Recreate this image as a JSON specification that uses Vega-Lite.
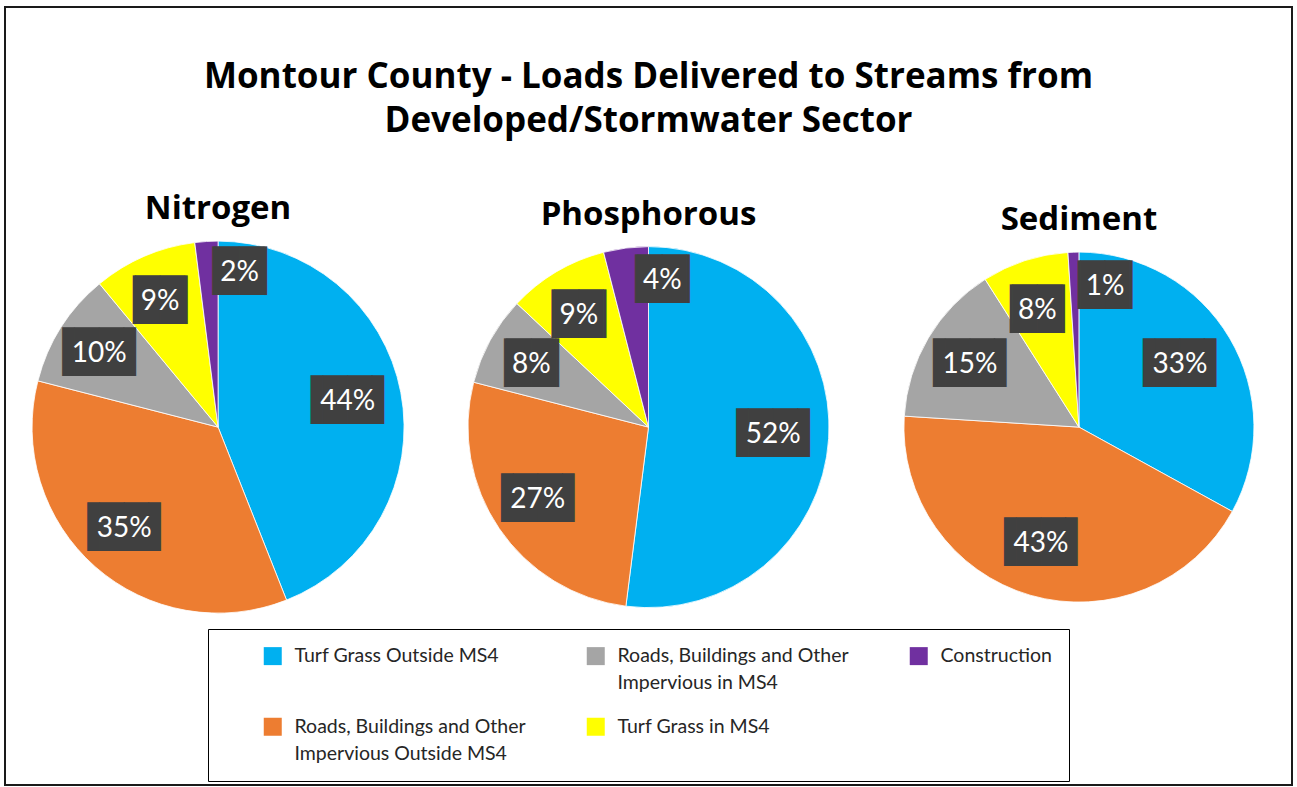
{
  "$schema": "https://vega.github.io/schema/vega-lite/v6.json",
  "width": 1297,
  "height": 787,
  "autosize": {"type": "fit", "contains": "padding"},
  "padding": {"left": 5, "top": 7, "right": 5, "bottom": 2},
  "background": "white",
  "title": {
    "text": ["Montour County - Loads Delivered to Streams from", "Developed/Stormwater Sector"],
    "font": "Open Sans",
    "fontSize": 35,
    "fontWeight": "bold",
    "color": "#000000",
    "anchor": "middle",
    "frame": "group",
    "lineHeight": 44,
    "offset": -132
  },
  "data": {
    "values": [
      {"pollutant": "Nitrogen", "source": "Turf Grass Outside MS4", "share": 0.44},
      {"pollutant": "Nitrogen", "source": "Roads, Buildings and Other Impervious Outside MS4", "share": 0.35},
      {"pollutant": "Nitrogen", "source": "Roads, Buildings and Other Impervious in MS4", "share": 0.10},
      {"pollutant": "Nitrogen", "source": "Turf Grass in MS4", "share": 0.09},
      {"pollutant": "Nitrogen", "source": "Construction", "share": 0.02},
      {"pollutant": "Phosphorous", "source": "Turf Grass Outside MS4", "share": 0.52},
      {"pollutant": "Phosphorous", "source": "Roads, Buildings and Other Impervious Outside MS4", "share": 0.27},
      {"pollutant": "Phosphorous", "source": "Roads, Buildings and Other Impervious in MS4", "share": 0.08},
      {"pollutant": "Phosphorous", "source": "Turf Grass in MS4", "share": 0.09},
      {"pollutant": "Phosphorous", "source": "Construction", "share": 0.04},
      {"pollutant": "Sediment", "source": "Turf Grass Outside MS4", "share": 0.33},
      {"pollutant": "Sediment", "source": "Roads, Buildings and Other Impervious Outside MS4", "share": 0.43},
      {"pollutant": "Sediment", "source": "Roads, Buildings and Other Impervious in MS4", "share": 0.15},
      {"pollutant": "Sediment", "source": "Turf Grass in MS4", "share": 0.08},
      {"pollutant": "Sediment", "source": "Construction", "share": 0.01}
    ]
  },
  "transform": [{"window": [{"op": "row_number", "as": "k"}]}],
  "encoding": {
    "x": {"field": "pollutant", "type": "nominal", "axis": null, "scale": {"type": "point", "domain": ["Nitrogen", "Phosphorous", "Sediment"], "padding": 0.495}},
    "y": {"datum": "center", "type": "nominal", "axis": null, "scale": {"type": "point", "domain": ["center"], "align": 0.54}},
    "theta": {"field": "share", "type": "quantitative", "stack": true, "scale": {"domain": [0, 1]}},
    "radius": {"field": "pollutant", "type": "nominal", "scale": {"type": "point", "domain": ["Nitrogen", "Phosphorous", "Sediment"], "range": [136, 122], "padding": 0}},
    "order": {"field": "k", "type": "quantitative"}
  },
  "layer": [
    {
      "mark": {"type": "arc", "stroke": "#ffffff", "strokeWidth": 0.8},
      "encoding": {
        "radius": {"field": "pollutant", "type": "nominal", "scale": {"type": "point", "domain": ["Nitrogen", "Phosphorous", "Sediment"], "range": [186, 175], "padding": 0}},
        "radius2": {"value": 0},
        "color": {
          "field": "source",
          "type": "nominal",
          "scale": {
            "domain": ["Turf Grass Outside MS4", "Roads, Buildings and Other Impervious Outside MS4", "Roads, Buildings and Other Impervious in MS4", "Turf Grass in MS4", "Construction"],
            "range": ["#00B0F0", "#ED7D31", "#A5A5A5", "#FFFF00", "#7030A0"]
          },
          "legend": {
            "title": null,
            "orient": "none",
            "legendX": 203,
            "legendY": 622,
            "columns": 3,
            "symbolType": "square",
            "symbolSize": 324,
            "symbolStrokeWidth": 0,
            "symbolOffset": 38,
            "labelFont": "Lato",
            "labelFontSize": 19.5,
            "labelColor": "#262626",
            "labelLimit": 400,
            "labelOffset": 12,
            "padding": 17,
            "rowPadding": 23,
            "columnPadding": 22,
            "strokeColor": "#000000",
            "labelExpr": "indexof(datum.label, 'Other ') >= 0 ? ['Roads, Buildings and Other', substring(datum.label, 27)] : [datum.label, '']"
          }
        }
      }
    },
    {
      "mark": {"type": "text", "font": "DejaVu Sans Mono", "fontSize": 41, "color": "#404040", "baseline": "middle", "align": "center", "dx": -4},
      "encoding": {"text": {"condition": [{"test": "datum.share >= 0.1", "value": "▐██▌"}, {"test": "datum.share >= 0.05", "value": "▕██▏"}], "value": ""}}
    },
    {
      "mark": {"type": "text", "font": "DejaVu Sans Mono", "fontSize": 41, "color": "#404040", "baseline": "middle", "align": "center", "dx": 30, "dy": -18},
      "encoding": {"text": {"condition": {"test": "datum.share < 0.05", "value": "▕██▏"}, "value": ""}}
    },
    {
      "mark": {"type": "text", "font": "Lato", "fontSize": 28, "color": "#ffffff", "baseline": "middle", "align": "center", "dx": -4},
      "encoding": {"text": {"condition": {"test": "datum.share >= 0.05", "field": "share", "type": "quantitative", "format": ".0%"}, "value": ""}}
    },
    {
      "mark": {"type": "text", "font": "Lato", "fontSize": 28, "color": "#ffffff", "baseline": "middle", "align": "center", "dx": 30, "dy": -18},
      "encoding": {"text": {"condition": {"test": "datum.share < 0.05", "field": "share", "type": "quantitative", "format": ".0%"}, "value": ""}}
    },
    {
      "transform": [{"aggregate": [{"op": "count", "as": "n"}], "groupby": ["pollutant"]}],
      "mark": {"type": "text", "font": "Open Sans", "fontSize": 33, "fontWeight": "bold", "color": "#000000", "baseline": "alphabetic", "align": "center"},
      "encoding": {
        "theta": {"value": 0},
        "order": {"value": 0},
        "radius": {"field": "pollutant", "type": "nominal", "scale": {"type": "point", "domain": ["Nitrogen", "Phosphorous", "Sediment"], "range": [208, 197], "padding": 0}},
        "text": {"field": "pollutant", "type": "nominal"}
      }
    }
  ],
  "resolve": {"scale": {"radius": "independent"}},
  "config": {
    "view": {"stroke": "#1a1a1a", "strokeWidth": 2},
    "style": {"guide-label": {"lineHeight": 27}}
  }
}
